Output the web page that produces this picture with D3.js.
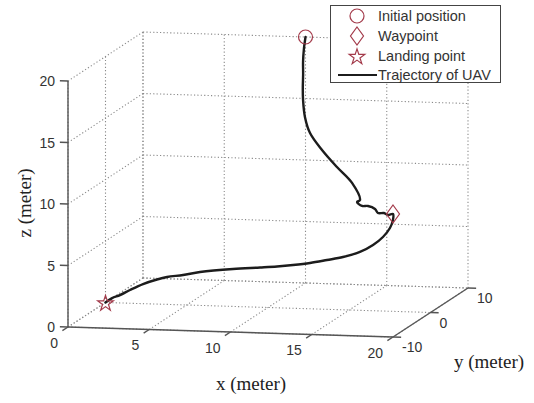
<!DOCTYPE html>
<html><head><meta charset="utf-8">
<script src="https://cdn.jsdelivr.net/npm/d3@7"></script>
<style>
html,body{margin:0;padding:0;background:#fff;}
svg{display:block;}
</style></head>
<body>
<svg id="c" width="534" height="403"></svg>
<script>
// ---- data ----
const xTicks = [0, 5, 10, 15, 20];
const yTicks = [-10, 0, 10];
const zTicks = [0, 5, 10, 15, 20];
const initialPos = [10, 10, 20];
const waypoint = [20, -10, 10];
const landingPt = [0, 0, 0];
const trajX = [10, 9.9, 9.85, 9.9, 9.95, 10.08, 10.43, 10.97, 12.17, 13.55, 14.94, 15.89, 15.94, 16.59, 17.19, 17.97, 18.38, 18.98, 19.46, 20,
  19.95, 19.72, 19.22, 18.54, 17.62, 16.46, 15.36, 14.2, 13.04, 11.94, 10.8, 9.0, 6.74, 5.58, 4.48, 3.77, 2.77, 1.83, 1.1, 0.52, 0];
const trajY = [10, 10, 10, 9.8, 9.5, 9, 8, 7, 5, 3, 1, -1, -2, -3.5, -4.5, -6, -7, -8, -9, -10,
  -9.8, -9.6, -9.3, -9, -8.5, -8, -7.5, -7, -6.5, -6, -5.6, -5, -4, -3.5, -3, -2.6, -2, -1.4, -0.9, -0.5, 0];
const trajZ = [20, 19, 18, 17, 16, 15.1, 13.9, 12.83, 11.9, 10.97, 10.13, 9.17, 9.22, 9.22, 9.44, 9.53, 9.42, 9.64, 9.7, 10,
  9.47, 8.77, 7.96, 7.22, 6.52, 5.96, 5.57, 5.18, 4.87, 4.61, 4.40, 4.09, 3.55, 3.16, 2.85, 2.54, 2.01, 1.37, 0.83, 0.48, 0];
const legendLabels = ["Initial position", "Waypoint", "Landing point", "Trajectory of UAV"];

// ---- projection through d3 scales ----
const svg = d3.select("#c");
const xs = d3.scaleLinear().domain([0, 20]).range([0, 1]);
const ys = d3.scaleLinear().domain([-10, 10]).range([0, 1]);
const zs = d3.scaleLinear().domain([0, 20]).range([0, 1]);
const O = [68, 327];
const EX = [325, 10], EY = [75, -49], EZ = [0, -246];
function P(x, y, z) {
  const a = xs(x), b = ys(y), c = zs(z);
  return [O[0] + a * EX[0] + b * EY[0] + c * EZ[0], O[1] + a * EX[1] + b * EY[1] + c * EZ[1]];
}
const markColor = "#a33a4a";
const gridColor = "#8a8a8a";
const axisColor = "#555";
const textColor = "#333";

// ---- grid (dotted) ----
const grid = svg.append("g").attr("stroke", gridColor).attr("stroke-width", 1.1)
  .attr("stroke-dasharray", "1.2,2.2").attr("fill", "none");
function seg(g, a, b) {
  const p = P(...a), q = P(...b);
  g.append("line").attr("x1", p[0]).attr("y1", p[1]).attr("x2", q[0]).attr("y2", q[1]);
}
const [x0, x1] = xs.domain(), [y0, y1] = ys.domain(), [z0, z1] = zs.domain();
// floor
xTicks.forEach(x => seg(grid, [x, y0, z0], [x, y1, z0]));
yTicks.forEach(y => seg(grid, [x0, y, z0], [x1, y, z0]));
// back wall (y = max)
xTicks.forEach(x => seg(grid, [x, y1, z0], [x, y1, z1]));
zTicks.forEach(z => seg(grid, [x0, y1, z], [x1, y1, z]));
// left wall (x = min)
yTicks.forEach(y => seg(grid, [x0, y, z0], [x0, y, z1]));
zTicks.forEach(z => seg(grid, [x0, y0, z], [x0, y1, z]));

// ---- axes ----
const ax = svg.append("g").attr("stroke", axisColor).attr("stroke-width", 1.4).attr("fill", "none");
seg(ax, [x0, y0, z0], [x1, y0, z0]);
seg(ax, [x1, y0, z0], [x1, y1, z0]);
seg(ax, [x0, y0, z0], [x0, y0, z1]);
// ticks
xTicks.forEach(x => seg(ax, [x, y0, z0], [x, y0 - 1.5, z0]));
yTicks.forEach(y => seg(ax, [x1, y, z0], [x1 + 0.5, y, z0]));
zTicks.forEach(z => seg(ax, [x0, y0, z], [x0 - 0.5, y0, z]));

const lab = svg.append("g").attr("font-family", "'Liberation Sans', Arial, sans-serif")
  .attr("font-size", 14).attr("fill", textColor);
xTicks.forEach(x => { const p = P(x, y0, z0);
  lab.append("text").attr("x", p[0] - 10).attr("y", p[1] + 20.5).attr("text-anchor", "end").text(x); });
yTicks.forEach(y => { const p = P(x1, y, z0);
  lab.append("text").attr("x", p[0] + 9).attr("y", p[1] + 15).attr("text-anchor", "start").text(y); });
zTicks.forEach(z => { const p = P(x0, y0, z);
  lab.append("text").attr("x", p[0] - 13).attr("y", p[1] + 5).attr("text-anchor", "end").text(z); });

// axis titles
const tl = svg.append("g").attr("font-family", "'Liberation Serif', 'Times New Roman', serif")
  .attr("font-size", 19).attr("fill", "#222");
tl.append("text").attr("x", 251).attr("y", 390).attr("text-anchor", "middle").text("x (meter)");
tl.append("text").attr("x", 489).attr("y", 368).attr("text-anchor", "middle").text("y (meter)");
tl.append("text").attr("transform", "translate(31,203) rotate(-90)").attr("text-anchor", "middle").text("z (meter)");

// ---- trajectory ----
const pts = trajX.map((x, i) => P(x, trajY[i], trajZ[i]));
svg.append("path").attr("d", d3.line().curve(d3.curveCatmullRom.alpha(0.5))(pts))
  .attr("fill", "none").attr("stroke", "#1c1c1c").attr("stroke-width", 2.4)
  .attr("stroke-linejoin", "round").attr("stroke-linecap", "round");

// ---- markers ----
function diamondPath(cx, cy, w, h) {
  return `M${cx},${cy - h}L${cx + w},${cy}L${cx},${cy + h}L${cx - w},${cy}Z`;
}
const starSym = d3.symbol().type(d3.symbolStar).size(75);
function drawCircle(g, p) { g.append("circle").attr("cx", p[0]).attr("cy", p[1]).attr("r", 7); }
function drawDiamond(g, p) { g.append("path").attr("d", diamondPath(p[0], p[1], 6.5, 9)); }
function drawStar(g, p) { g.append("path").attr("d", starSym()).attr("transform", `translate(${p[0]},${p[1] + 1})`); }
const mk = svg.append("g").attr("fill", "none").attr("stroke", markColor).attr("stroke-width", 1.2);
drawCircle(mk, P(...initialPos));
drawDiamond(mk, P(...waypoint));
drawStar(mk, P(...landingPt));

// ---- legend ----
const lg = svg.append("g");
lg.append("rect").attr("x", 330.5).attr("y", 5.5).attr("width", 170).attr("height", 77)
  .attr("fill", "#fff").attr("stroke", "#444").attr("stroke-width", 1);
const rowY = [16, 36, 56, 75];
const lm = lg.append("g").attr("fill", "none").attr("stroke", markColor).attr("stroke-width", 1.2);
drawCircle(lm, [357, rowY[0]]);
drawDiamond(lm, [357, rowY[1]]);
drawStar(lm, [357, rowY[2]]);
lg.append("line").attr("x1", 338).attr("x2", 377).attr("y1", rowY[3]).attr("y2", rowY[3])
  .attr("stroke", "#1c1c1c").attr("stroke-width", 2);
lg.append("g").attr("font-family", "'Liberation Sans', Arial, sans-serif").attr("font-size", 14.5).attr("fill", textColor)
  .selectAll("text").data(legendLabels).join("text")
  .attr("x", 378).attr("y", (d, i) => rowY[i] + 5).text(d => d);
</script>
</body></html>
